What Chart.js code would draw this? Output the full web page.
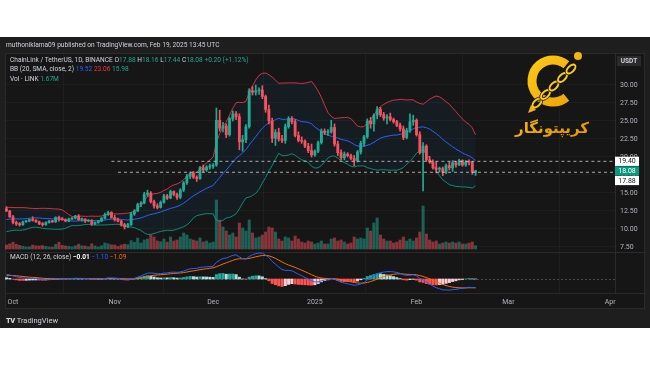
<!DOCTYPE html>
<html>
<head>
<meta charset="utf-8">
<script src="https://cdn.jsdelivr.net/npm/chart.js@4.4.1/dist/chart.umd.min.js"></script>
<style>
body { margin: 0; background: #fff; width: 650px; height: 365px; overflow: hidden; font-family: Roboto, 'DejaVu Sans', sans-serif; }
#panel { position: absolute; left: 0; top: 37px; width: 650px; height: 291px; background: #1e1e1e; }
#inner { position: absolute; left: 5px; top: 16px; width: 640px; height: 256px; background: #161616; border: 1px solid #2a2a2a; box-sizing: border-box; }
#c { position: absolute; left: 0; top: 0; }
.t { position: absolute; font-size: 6.6px; line-height: 9px; color: #d1d4dc; white-space: nowrap; }
.g { color: #22ab94; }
.r { color: #f23645; }
.b { color: #2962ff; }
.o { color: #ff6d00; }
.w { color: #fff; font-weight: bold; }
.tv { font-weight: 900; letter-spacing: -0.5px; margin-right: 2px; }
</style>
</head>
<body>
<div id="panel">
  <div id="inner"></div>
  <canvas id="c" width="650" height="291"></canvas>
  <div class="t" style="left:6px;top:3.5px">muthoniklama09 published on TradingView.com, Feb 19, 2025 13:45 UTC</div>
  <div class="t" style="left:10px;top:18.5px">ChainLink / TetherUS, 1D, BINANCE O<span class="g">17.88</span> H<span class="g">18.16</span> L<span class="g">17.44</span> C<span class="g">18.08</span> <span class="g">+0.20 (+1.12%)</span></div>
  <div class="t" style="left:10px;top:27.5px">BB (20, SMA, close, 2) <span class="b">19.52</span> <span class="r">23.06</span> <span class="g">15.98</span></div>
  <div class="t" style="left:10px;top:37.5px">Vol · LINK <span class="g">1.67M</span></div>
  <div class="t" style="left:10px;top:215.5px">MACD (12, 26, close) <span class="w">−0.01</span> <span class="b">−1.10</span> <span class="o">−1.09</span></div>
  <div class="t" style="left:6px;top:278.5px;font-size:7.5px"><span class="tv">TV</span>TradingView</div>
</div>
<script>
// x axis counts days from 1 Oct 2024, first candle is 29 Sep 2024
var firstDay = -2;

// 9 - 28 Sep 2024 closes, off screen, only used to warm up BB and MACD
var warmClose = [10.3, 10.4, 10.3, 10.5, 10.8, 10.7, 10.4, 10.2, 10.5, 10.7, 11.2, 11.4, 11.6, 11.4, 11.8, 11.9, 11.7, 12.3, 12.9, 12.8];

var open = [
    12.8, 12.5, 11.7, 10.9, 10.7, 10.6, 11.0, 11.1, 11.3, 11.2, 11.0, 10.7,
    10.6, 10.9, 11.1, 11.0, 11.6, 11.4, 11.3, 11.1, 11.4, 11.5, 11.8, 11.3,
    11.4, 11.1, 11.2, 10.7, 10.9, 11.1, 11.5, 12.0, 12.3, 11.6, 11.3, 11.1,
    10.6, 10.3, 10.6, 12.1, 12.5, 13.4, 13.6, 14.8, 15.0, 13.8, 13.2, 13.0,
    13.7, 14.6, 14.3, 15.2, 14.8, 14.4, 15.4, 16.4, 17.3, 17.7, 17.2, 17.0,
    18.5, 18.2, 18.6, 18.7, 18.9, 25.1, 24.0, 24.3, 23.1, 25.3, 26.0, 25.6,
    22.1, 22.4, 24.2, 29.2, 29.0, 29.2, 29.3, 28.4, 26.6, 25.0, 22.6, 23.4,
    22.5, 22.3, 24.2, 25.3, 24.9, 23.0, 22.3, 22.2, 21.5, 20.9, 20.3, 20.8,
    22.0, 23.6, 23.4, 23.5, 24.1, 21.8, 20.6, 19.9, 20.4, 20.2, 19.8, 19.5,
    20.7, 21.9, 22.8, 25.0, 24.6, 25.8, 26.6, 25.9, 25.4, 25.6, 25.2, 24.9,
    24.4, 23.9, 22.7, 23.7, 24.9, 25.1, 23.1, 20.6, 21.5, 19.6, 19.3, 18.5,
    18.3, 18.4, 17.9, 18.8, 18.5, 19.2, 18.9, 19.5, 18.9, 19.3, 19.25, 17.88
];
var high = [
    13.1, 12.6, 11.9, 11.1, 10.9, 11.1, 11.2, 11.4, 11.7, 11.3, 11.1, 10.9,
    11.0, 11.2, 11.2, 11.7, 11.8, 11.6, 11.4, 11.5, 11.6, 11.9, 12.0, 11.5,
    11.4, 11.3, 11.3, 11.0, 11.2, 11.6, 12.2, 12.5, 12.4, 11.9, 11.5, 11.2,
    10.8, 10.8, 12.3, 12.7, 13.6, 13.8, 15.1, 15.4, 15.2, 14.0, 13.5, 13.9,
    14.8, 14.8, 15.4, 15.3, 15.0, 15.6, 16.6, 17.6, 17.9, 18.0, 17.4, 18.7,
    18.9, 18.8, 19.0, 19.1, 26.8, 26.5, 24.8, 24.6, 25.5, 26.4, 26.3, 26.0,
    23.0, 24.5, 29.5, 29.8, 30.0, 29.6, 29.9, 28.6, 27.2, 25.4, 23.8, 24.0,
    23.0, 24.6, 25.6, 25.6, 25.2, 23.5, 22.8, 22.4, 21.9, 21.8, 21.0, 22.2,
    23.9, 23.9, 23.8, 25.1, 24.6, 22.2, 21.0, 20.7, 20.6, 20.4, 20.2, 20.9,
    22.2, 23.0, 25.3, 25.5, 26.0, 27.0, 26.9, 26.2, 25.9, 26.1, 25.4, 25.1,
    24.7, 24.3, 24.0, 26.0, 25.8, 25.3, 23.5, 22.0, 21.7, 20.1, 19.6, 19.3,
    18.6, 18.6, 19.0, 19.3, 19.5, 19.4, 19.7, 19.6, 19.5, 19.6, 19.4, 18.16
];
var low = [
    12.4, 11.6, 10.7, 10.5, 10.4, 10.5, 10.9, 11.0, 11.1, 10.9, 10.6, 10.4,
    10.5, 10.8, 10.9, 10.9, 11.1, 11.2, 11.0, 11.0, 11.3, 11.4, 11.2, 11.1,
    10.9, 11.0, 10.5, 10.6, 10.8, 11.0, 11.4, 11.9, 11.5, 11.1, 11.0, 10.4,
    10.0, 10.2, 10.5, 11.9, 12.4, 13.1, 13.5, 14.5, 13.6, 12.9, 12.8, 12.9,
    13.6, 14.1, 14.2, 14.6, 14.1, 14.2, 15.2, 16.2, 17.0, 17.0, 16.6, 16.9,
    17.9, 18.0, 18.3, 18.4, 18.7, 23.6, 23.5, 22.7, 22.9, 25.0, 25.2, 21.0,
    20.8, 22.0, 24.0, 28.6, 28.6, 28.7, 28.1, 26.2, 24.6, 22.0, 21.6, 22.2,
    22.0, 21.9, 24.0, 24.6, 22.8, 22.1, 21.9, 21.3, 20.6, 20.0, 20.1, 20.6,
    21.8, 23.1, 23.0, 23.3, 21.5, 20.2, 19.6, 19.6, 20.0, 19.6, 18.8, 19.3,
    20.4, 21.5, 22.6, 24.0, 23.6, 25.3, 25.6, 25.1, 24.6, 25.0, 24.7, 24.2,
    23.6, 22.4, 22.5, 23.4, 24.4, 22.9, 20.4, 15.3, 19.4, 19.1, 18.3, 17.8,
    17.9, 17.4, 17.7, 18.2, 18.0, 18.6, 18.8, 18.7, 18.7, 18.9, 17.6, 17.44
];
var close = [
    12.5, 11.7, 10.9, 10.7, 10.6, 11.0, 11.1, 11.3, 11.2, 11.0, 10.7, 10.6,
    10.9, 11.1, 11.0, 11.6, 11.4, 11.3, 11.1, 11.4, 11.5, 11.8, 11.3, 11.4,
    11.1, 11.2, 10.7, 10.9, 11.1, 11.5, 12.0, 12.3, 11.6, 11.3, 11.1, 10.6,
    10.3, 10.6, 12.1, 12.5, 13.4, 13.6, 14.8, 15.0, 13.8, 13.2, 13.0, 13.7,
    14.6, 14.3, 15.2, 14.8, 14.4, 15.4, 16.4, 17.3, 17.7, 17.2, 17.0, 18.5,
    18.2, 18.6, 18.7, 18.9, 25.1, 24.0, 24.3, 23.1, 25.3, 26.0, 25.6, 22.1,
    22.4, 24.2, 29.2, 29.0, 29.2, 29.3, 28.4, 26.6, 25.0, 22.6, 23.4, 22.5,
    22.3, 24.2, 25.3, 24.9, 23.0, 22.3, 22.2, 21.5, 20.9, 20.3, 20.8, 22.0,
    23.6, 23.4, 23.5, 24.1, 21.8, 20.6, 19.9, 20.4, 20.2, 19.8, 19.5, 20.7,
    21.9, 22.8, 25.0, 24.6, 25.8, 26.6, 25.9, 25.4, 25.6, 25.2, 24.9, 24.4,
    23.9, 22.7, 23.7, 24.9, 25.1, 23.1, 20.6, 21.5, 19.6, 19.3, 18.5, 18.3,
    18.4, 17.9, 18.8, 18.5, 19.2, 18.9, 19.5, 18.9, 19.3, 19.25, 17.88, 18.08
];
// volume in millions of LINK
var volume = [
    2.0, 2.6, 3.4, 2.4, 1.8, 1.4, 1.0, 1.1, 2.0, 1.6, 1.5, 1.7,
    1.3, 1.0, 0.9, 2.3, 3.4, 1.8, 1.5, 1.3, 1.0, 1.6, 2.4, 1.6,
    1.5, 1.1, 2.6, 1.5, 1.0, 1.6, 3.0, 2.6, 2.1, 2.0, 1.3, 2.0,
    2.4, 2.2, 4.2, 3.4, 5.5, 3.0, 4.5, 5.0, 7.0, 6.0, 4.0, 3.6,
    5.0, 3.4, 6.0, 4.0, 4.5, 6.0, 8.0, 7.0, 5.0, 4.5, 4.0, 5.5,
    3.5, 4.0, 3.0, 3.5, 24.5, 14.5, 11.0, 9.0, 7.0, 8.0, 6.0, 13.0,
    10.5, 9.0, 14.5, 8.0, 5.5, 6.0, 7.0, 8.5, 11.0, 10.5, 8.5, 5.0,
    4.0, 6.0, 5.5, 4.0, 6.5, 5.0, 3.5, 3.0, 4.0, 3.5, 2.5, 3.0,
    4.0, 2.5, 2.5, 5.0, 5.5, 4.0, 4.5, 3.5, 2.5, 3.0, 6.0, 5.0,
    5.5, 5.0, 10.5, 9.0, 13.0, 15.5, 7.0, 5.0, 4.0, 4.0, 3.0, 3.5,
    4.5, 6.0, 4.0, 5.0, 4.0, 5.5, 8.5, 21.5, 7.5, 4.5, 3.5, 4.0,
    2.5, 3.0, 3.5, 3.0, 3.5, 3.0, 3.5, 2.5, 2.5, 3.0, 3.5, 1.67
];

var monthTicks = [0, 31, 61, 92, 123, 151, 182];
var monthLabels = ['Oct', 'Nov', 'Dec', '2025', 'Feb', 'Mar', 'Apr'];
var priceTicks = [7.5, 10, 12.5, 15, 17.5, 20, 22.5, 25, 27.5, 30];
var macdTicks = [0, 2.5];
// horizontal lines drawn by the author (price, first day)
var hLinePrice = [19.40, 17.88];
var hLineFrom = [30, 32];
var lastPrice = 18.08;

var UP = '#22ab94', DOWN = '#f7525f';

var days = close.map(function (c, i) { return firstDay + i; });
var allClose = warmClose.concat(close);
var skip = warmClose.length;

//////// bollinger bands 20, 2 ////////
var bbMid = [], bbUp = [], bbLow = [];
for (var i = skip; i < allClose.length; i++) {
    var win = allClose.slice(i - 19, i + 1);
    var m = win.reduce(function (a, b) { return a + b; }) / 20;
    var sd = Math.sqrt(win.reduce(function (a, b) { return a + (b - m) * (b - m); }, 0) / 20);
    var x = days[i - skip];
    bbMid.push({x: x, y: m});
    bbUp.push({x: x, y: m + 2 * sd});
    bbLow.push({x: x, y: m - 2 * sd});
}

//////// macd 12, 26, 9 ////////
function ema(arr, n) {
    var k = 2 / (n + 1), out = [arr[0]];
    for (var j = 1; j < arr.length; j++) out.push(arr[j] * k + out[j - 1] * (1 - k));
    return out;
}
var e12 = ema(allClose, 12), e26 = ema(allClose, 26);
var macdAll = allClose.map(function (c, j) { return e12[j] - e26[j]; });
var sigAll = ema(macdAll, 9);
var histAll = macdAll.map(function (v, j) { return v - sigAll[j]; });

var macdLine = [], sigLine = [], hist = [], histColors = [];
for (var j = skip; j < allClose.length; j++) {
    var d = days[j - skip];
    macdLine.push({x: d, y: macdAll[j]});
    sigLine.push({x: d, y: sigAll[j]});
    hist.push({x: d, y: histAll[j]});
    var h = histAll[j], p = histAll[j - 1];
    if (h >= 0) histColors.push(h > p ? '#26a69a' : '#b2dfdb');
    else histColors.push(h < p ? '#ff5252' : '#ffcdd2');
}

var candleColors = close.map(function (c, i) { return c >= open[i] ? UP : DOWN; });
var volColors = close.map(function (c, i) { return c >= open[i] ? 'rgba(34,171,148,0.5)' : 'rgba(247,82,95,0.5)'; });

var xMin = -2.44, xMax = 183.5;

var hLineSets = hLinePrice.map(function (v, k) {
    return {
        type: 'line', data: [{x: hLineFrom[k], y: v}, {x: xMax, y: v}],
        borderColor: 'rgba(220,220,220,0.75)', borderWidth: 1, borderDash: [3, 3],
        pointRadius: 0, yAxisID: 'y', order: 0
    };
});

//////// extra drawing: panes, price tags, watermark ////////
var extras = {
    id: 'extras',
    beforeDatasetsDraw: function (chart) {
        var ctx = chart.ctx, a = chart.chartArea, ym = chart.scales.yMacd;
        ctx.save();
        // pane separator
        ctx.strokeStyle = '#2a2a2a';
        ctx.lineWidth = 1;
        ctx.beginPath();
        ctx.moveTo(a.left, 215.5); ctx.lineTo(chart.width - 5, 215.5);
        ctx.moveTo(a.left, a.bottom + 0.5); ctx.lineTo(chart.width - 5, a.bottom + 0.5);
        ctx.moveTo(a.right + 0.5, a.top); ctx.lineTo(a.right + 0.5, a.bottom);
        ctx.stroke();
        // macd zero line
        var z = Math.round(ym.getPixelForValue(0)) + 0.5;
        ctx.strokeStyle = 'rgba(120,123,134,0.5)';
        ctx.setLineDash([2, 2]);
        ctx.beginPath(); ctx.moveTo(a.left, z); ctx.lineTo(a.right, z); ctx.stroke();
        ctx.restore();
    },
    afterDraw: function (chart) {
        var ctx = chart.ctx, a = chart.chartArea, ys = chart.scales.y;
        ctx.save();
        ctx.font = '7px Roboto, "DejaVu Sans", sans-serif';
        ctx.textAlign = 'center';
        ctx.textBaseline = 'middle';

        // USDT button
        ctx.fillStyle = '#2b2b2b';
        ctx.fillRect(a.right + 2, 19, 24, 10);
        ctx.fillStyle = '#d1d4dc';
        ctx.font = 'bold 6.5px Roboto, "DejaVu Sans", sans-serif';
        ctx.fillText('USDT', a.right + 14, 24.5);

        // price tags, pushed apart so they do not overlap
        var tags = [
            {v: hLinePrice[0], bg: '#ffffff', fg: '#131313'},
            {v: lastPrice, bg: '#089981', fg: '#ffffff'},
            {v: hLinePrice[1], bg: '#ffffff', fg: '#131313'}
        ];
        var prev = -99;
        ctx.font = '7px Roboto, "DejaVu Sans", sans-serif';
        tags.forEach(function (t) {
            var y = Math.max(ys.getPixelForValue(t.v), prev + 9.6);
            prev = y;
            ctx.fillStyle = t.bg;
            ctx.fillRect(a.right, y - 4.6, 24, 9.2);
            ctx.fillStyle = t.fg;
            ctx.fillText(t.v.toFixed(2), a.right + 12, y + 0.3);
        });

        // watermark logo
        var g = ctx.createLinearGradient(525, 15, 585, 75);
        g.addColorStop(0, '#ffcd1c');
        g.addColorStop(1, '#e99b00');
        ctx.strokeStyle = g;
        ctx.fillStyle = g;
        ctx.lineCap = 'butt';
        ctx.lineWidth = 9;
        ctx.beginPath();
        ctx.arc(553, 44, 21, 0.28 * Math.PI, 1.72 * Math.PI, false);
        ctx.stroke();
        // chain across the C
        for (var k = 0; k < 5; k++) {
            var cx = 537 + k * 8.5, cy = 66 - k * 8.5;
            ctx.save();
            ctx.translate(cx, cy);
            ctx.rotate(-Math.PI / 4);
            ctx.beginPath();
            ctx.ellipse(0, 0, 5.5, 3, 0, 0, 2 * Math.PI);
            ctx.strokeStyle = '#161616';
            ctx.lineWidth = 3.5;
            ctx.stroke();
            ctx.strokeStyle = g;
            ctx.lineWidth = 2;
            ctx.stroke();
            ctx.restore();
        }
        ctx.beginPath();
        ctx.arc(578, 19, 4, 0, 2 * Math.PI);
        ctx.fill();
        ctx.beginPath();
        ctx.moveTo(531, 68); ctx.lineTo(536, 73); ctx.lineTo(528, 76);
        ctx.closePath();
        ctx.fill();
        // persian name
        ctx.font = 'bold 15px "DejaVu Sans", sans-serif';
        ctx.direction = 'rtl';
        ctx.textAlign = 'center';
        ctx.fillText('کریپتونگار', 552, 92);
        ctx.restore();
    }
};

Chart.defaults.font.family = "Roboto, 'DejaVu Sans', sans-serif";

var config = {
    type: 'bar',
    data: {
        datasets: [
            {
                // wicks
                data: days.map(function (d, i) { return {x: d, y: [low[i], high[i]]}; }),
                backgroundColor: candleColors, barThickness: 1, grouped: false,
                yAxisID: 'y', order: 2
            },
            {
                // bodies
                data: days.map(function (d, i) { return {x: d, y: [open[i], close[i]]}; }),
                backgroundColor: candleColors, barThickness: 2.2, minBarLength: 1, grouped: false,
                yAxisID: 'y', order: 1
            },
            {
                type: 'line', data: bbUp, borderColor: 'rgba(242,54,69,0.85)', borderWidth: 1,
                pointRadius: 0, yAxisID: 'y', order: 3
            },
            {
                type: 'line', data: bbMid, borderColor: '#2962ff', borderWidth: 1,
                pointRadius: 0, yAxisID: 'y', order: 3
            },
            {
                type: 'line', data: bbLow, borderColor: 'rgba(8,153,129,0.9)', borderWidth: 1,
                pointRadius: 0, yAxisID: 'y', order: 3,
                fill: '-2', backgroundColor: 'rgba(33,150,243,0.06)'
            },
            {
                data: days.map(function (d, i) { return {x: d, y: volume[i]}; }),
                backgroundColor: volColors, barThickness: 2.4, grouped: false,
                yAxisID: 'yVol', order: 6
            },
            {
                data: hist, backgroundColor: histColors, barThickness: 2.4, grouped: false,
                yAxisID: 'yMacd', order: 5
            },
            {
                type: 'line', data: macdLine, borderColor: '#2962ff', borderWidth: 1,
                pointRadius: 0, yAxisID: 'yMacd', order: 4
            },
            {
                type: 'line', data: sigLine, borderColor: '#ff6d00', borderWidth: 1,
                pointRadius: 0, yAxisID: 'yMacd', order: 4
            }
        ].concat(hLineSets)
    },
    options: {
        responsive: false,
        animation: false,
        layout: {padding: {left: 5, top: 16, right: 0, bottom: 19}},
        plugins: {legend: {display: false}, tooltip: {enabled: false}},
        scales: {
            x: {
                type: 'linear', min: xMin, max: xMax, offset: false,
                afterBuildTicks: function (s) { s.ticks = monthTicks.map(function (v) { return {value: v}; }); },
                afterFit: function (s) { s.height = 16; },
                ticks: {
                    callback: function (v) { return monthLabels[monthTicks.indexOf(v)]; },
                    color: '#b2b5be', font: {size: 7}, padding: 5, maxRotation: 0, autoSkip: false
                },
                grid: {color: 'rgba(255,255,255,0.035)', drawTicks: false},
                border: {display: false}
            },
            y: {
                position: 'right', weight: 5, min: 1.111, max: 34.444, beginAtZero: false,
                afterBuildTicks: function (s) { s.ticks = priceTicks.map(function (v) { return {value: v}; }); },
                afterFit: function (s) { s.width = 35; },
                ticks: {
                    callback: function (v) { return v.toFixed(2); },
                    color: '#b2b5be', font: {size: 7}, padding: 5
                },
                grid: {color: 'rgba(255,255,255,0.03)', drawTicks: false},
                border: {display: false}
            },
            yMacd: {
                position: 'right', weight: 0, min: -1.75, max: 28.25, beginAtZero: false,
                afterBuildTicks: function (s) { s.ticks = macdTicks.map(function (v) { return {value: v}; }); },
                afterFit: function (s) { s.width = 0; },
                ticks: {
                    callback: function (v) { return v.toFixed(2); },
                    color: '#b2b5be', font: {size: 7}, padding: 5
                },
                grid: {display: false},
                border: {display: false}
            },
            yVol: {display: false, min: -22, max: 98, beginAtZero: false}
        }
    },
    plugins: [extras]
};

var chart = new Chart(document.getElementById('c'), config);
</script>
</body>
</html>
